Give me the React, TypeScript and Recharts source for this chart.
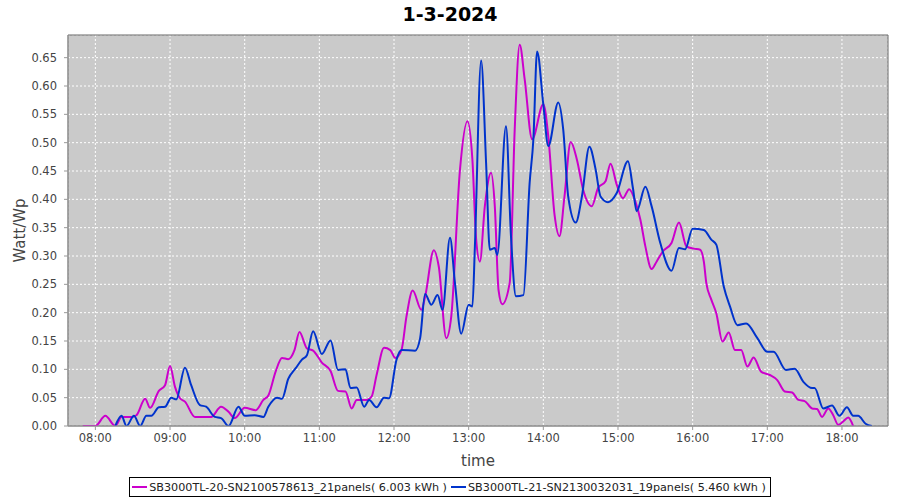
import { CartesianGrid, Legend, Line, LineChart, ReferenceArea, XAxis, YAxis } from 'recharts';

// time in minutes since midnight, value in Watt/Wp
const magentaTimes = [
  470, 480, 488, 496, 501, 509, 513, 520, 524, 531, 536, 540, 544, 548, 552, 560, 565, 573, 581, 587,
  592, 600, 609, 615, 619, 625, 630, 635, 640, 644, 650, 655, 662, 669, 675, 681, 686, 690, 698, 702,
  706, 712, 717, 721, 726, 730, 735, 742, 745, 752, 756, 762, 766, 773, 779, 783, 786, 789, 793, 798,
  801, 804, 807, 813, 817, 821, 825, 831, 840, 844, 849, 853, 857, 862, 867, 872, 879, 884, 890, 894,
  899, 904, 909, 914, 918, 922, 927, 931, 936, 943, 949, 955, 961, 966, 969, 971, 975, 979, 984, 989,
  994, 999, 1004, 1009, 1015, 1022, 1028, 1034, 1040, 1045, 1050, 1056, 1060, 1064, 1069, 1073, 1077,
  1081, 1085, 1089,
];
const magentaValues = [
  0, 0, 0.018, 0, 0.016, 0.016, 0.019, 0.048, 0.032, 0.062, 0.072, 0.106, 0.069, 0.049, 0.043, 0.016,
  0.016, 0.016, 0.034, 0.025, 0.014, 0.032, 0.028, 0.046, 0.054, 0.097, 0.12, 0.118, 0.134, 0.166,
  0.137, 0.133, 0.112, 0.097, 0.062, 0.061, 0.031, 0.046, 0.046, 0.052, 0.09, 0.138, 0.134, 0.12,
  0.134, 0.193, 0.239, 0.205, 0.228, 0.31, 0.281, 0.155, 0.193, 0.452, 0.538, 0.47, 0.33, 0.29, 0.388,
  0.447, 0.388, 0.24, 0.215, 0.253, 0.523, 0.673, 0.612, 0.506, 0.568, 0.511, 0.373, 0.335, 0.405,
  0.501, 0.47, 0.417, 0.388, 0.42, 0.432, 0.463, 0.426, 0.402, 0.418, 0.396, 0.364, 0.317, 0.277,
  0.29, 0.308, 0.323, 0.359, 0.317, 0.313, 0.311, 0.29, 0.252, 0.223, 0.199, 0.149, 0.165, 0.134,
  0.134, 0.105, 0.121, 0.096, 0.09, 0.081, 0.061, 0.059, 0.046, 0.044, 0.031, 0.03, 0.016, 0.031,
  0.019, 0.002, 0.008, 0.015, 0,
];

const blueTimes = [
  496, 501, 505, 511, 516, 521, 525, 531, 536, 541, 545, 552, 557, 564, 569, 576, 581, 587, 595, 600,
  608, 615, 619, 626, 630, 635, 641, 646, 650, 655, 662, 669, 675, 681, 685, 690, 696, 700, 706, 712,
  716, 722, 726, 737, 741, 745, 750, 755, 759, 765, 769, 774, 780, 783, 785, 790, 794, 797, 801, 803,
  810, 814, 818, 824, 829, 832, 835, 840, 844, 852, 856, 860, 866, 871, 877, 882, 886, 892, 899, 908,
  912, 915, 922, 927, 934, 943, 949, 954, 960, 969, 975, 979, 985, 990, 996, 1003, 1012, 1020, 1025,
  1035, 1042, 1049, 1056, 1058, 1065, 1072, 1078, 1084, 1089, 1093, 1099, 1104,
];
const blueValues = [
  0, 0.018, 0, 0.018, 0, 0.018, 0.018, 0.033, 0.034, 0.05, 0.047, 0.103, 0.072, 0.037, 0.034, 0.016,
  0.014, 0, 0.034, 0.018, 0.019, 0.016, 0.034, 0.05, 0.048, 0.083, 0.102, 0.117, 0.125, 0.167, 0.127,
  0.151, 0.099, 0.1, 0.067, 0.068, 0.034, 0.046, 0.033, 0.05, 0.049, 0.117, 0.134, 0.133, 0.155,
  0.233, 0.214, 0.231, 0.205, 0.332, 0.252, 0.163, 0.214, 0.211, 0.317, 0.645, 0.464, 0.311, 0.314,
  0.302, 0.529, 0.335, 0.229, 0.231, 0.429, 0.506, 0.661, 0.567, 0.494, 0.571, 0.523, 0.405, 0.359,
  0.405, 0.493, 0.453, 0.405, 0.395, 0.411, 0.467, 0.42, 0.379, 0.422, 0.388, 0.323, 0.274, 0.314,
  0.312, 0.348, 0.346, 0.329, 0.32, 0.246, 0.211, 0.178, 0.181, 0.155, 0.131, 0.131, 0.099, 0.101,
  0.078, 0.067, 0.067, 0.031, 0.036, 0.018, 0.033, 0.018, 0.018, 0.004, 0,
];

const seriesNames = [
  'SB3000TL-20-SN2100578613_21panels( 6.003 kWh )',
  'SB3000TL-21-SN2130032031_19panels( 5.460 kWh )',
];
const seriesColors = ['#cc00cc', '#0033cc'];

const hourTicks = [480, 540, 600, 660, 720, 780, 840, 900, 960, 1020, 1080];
const valueTicks = [0, 0.05, 0.1, 0.15, 0.2, 0.25, 0.3, 0.35, 0.4, 0.45, 0.5, 0.55, 0.6, 0.65];

const X_MIN = 458;
const X_MAX = 1117;
const Y_MAX = 0.69;

const magentaData = magentaTimes.map((t, i) => ({ t, v: magentaValues[i] }));
const blueData = blueTimes.map((t, i) => ({ t, v: blueValues[i] }));

const fmtTime = (m: number) => {
  const h = Math.floor(m / 60);
  const mm = m % 60;
  return `${String(h).padStart(2, '0')}:${String(mm).padStart(2, '0')}`;
};

const FONT = '"DejaVu Sans", Verdana, sans-serif';

const LegendBox = () => (
  <div style={{ display: 'flex', justifyContent: 'center' }}>
    <div
      style={{
        boxSizing: 'border-box',
        height: 20,
        border: '1px solid #000',
        background: '#fff',
        display: 'flex',
        alignItems: 'center',
        padding: '0 4px 0 2px',
        fontFamily: FONT,
        fontSize: 11.2,
        color: '#222',
        whiteSpace: 'nowrap',
      }}
    >
      {seriesNames.map((name, i) => (
        <span key={name} style={{ display: 'flex', alignItems: 'center', marginRight: i === 0 ? 4 : 0 }}>
          <span
            style={{
              display: 'inline-block',
              width: 15,
              height: 2,
              background: seriesColors[i],
              marginRight: 2,
            }}
          />
          {name}
        </span>
      ))}
    </div>
  </div>
);

export default function App() {
  return (
    <div style={{ position: 'absolute', left: 0, top: 0, width: 900, height: 500, background: '#fff' }}>
      <div
        style={{
          position: 'absolute',
          top: 0,
          left: 0,
          width: 900,
          textAlign: 'center',
          fontFamily: FONT,
          fontWeight: 'bold',
          fontSize: 19,
          lineHeight: '28px',
          color: '#000',
        }}
      >
        1-3-2024
      </div>
      <LineChart width={900} height={500} margin={{ top: 35, right: 12, left: 0, bottom: 3 }}>
        <CartesianGrid
          fill='#cacaca'
          fillOpacity={1}
          stroke='#ffffff'
          strokeDasharray='2 2'
        />
        <XAxis
          type='number'
          dataKey='t'
          domain={[X_MIN, X_MAX]}
          ticks={hourTicks}
          tickFormatter={fmtTime}
          allowDataOverflow
          height={51}
          tickSize={4}
          tickMargin={4}
          stroke='#999'
          tick={{ fill: '#444', fontSize: 11.5, fontFamily: FONT }}
          label={{
            value: 'time',
            position: 'insideBottom',
            offset: 11,
            fill: '#444',
            fontSize: 15,
            fontFamily: FONT,
          }}
        />
        <YAxis
          type='number'
          domain={[0, Y_MAX]}
          ticks={valueTicks}
          tickFormatter={(v: number) => v.toFixed(2)}
          allowDataOverflow
          width={68}
          tickSize={4}
          tickMargin={7}
          stroke='#999'
          tick={{ fill: '#444', fontSize: 11.5, fontFamily: FONT }}
          label={{
            value: 'Watt/Wp',
            angle: -90,
            position: 'insideLeft',
            offset: 20,
            fill: '#444',
            fontSize: 15,
            fontFamily: FONT,
            style: { textAnchor: 'middle' },
          }}
        />
        <ReferenceArea x1={X_MIN} x2={X_MAX} y1={0} y2={Y_MAX} fill='none' stroke='#666' />
        <Line
          data={magentaData}
          dataKey='v'
          name={seriesNames[0]}
          type='monotone'
          stroke={seriesColors[0]}
          strokeWidth={2}
          dot={false}
          isAnimationActive={false}
        />
        <Line
          data={blueData}
          dataKey='v'
          name={seriesNames[1]}
          type='monotone'
          stroke={seriesColors[1]}
          strokeWidth={2}
          dot={false}
          isAnimationActive={false}
        />
        <Legend
          verticalAlign='bottom'
          content={<LegendBox />}
          wrapperStyle={{ left: 0, width: 900 }}
        />
      </LineChart>
    </div>
  );
}
